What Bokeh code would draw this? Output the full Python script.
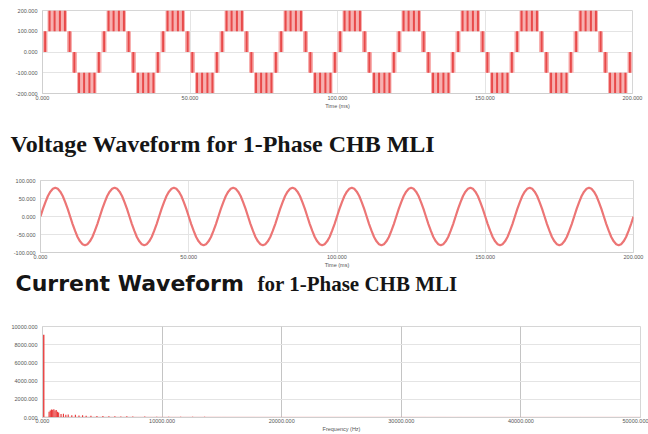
import numpy as np
from bokeh.plotting import figure
from bokeh.layouts import column
from bokeh.models import Range1d, PrintfTickFormatter, FixedTicker, Label
from bokeh.embed import file_html
from bokeh.resources import INLINE

# ---------------- data ----------------
PERIOD_MS = 20.0
N_PERIODS = 10
T_TICKS = [0, 50, 100, 150, 200]

# Voltage (one period, ms / V): PWM switching bands and dark stripes
V_BAND_T0 = [0.0, 1.7, 8.3, 10.0, 11.7, 18.3]
V_BAND_T1 = [1.7, 8.3, 10.0, 11.7, 18.3, 20.0]
V_BAND_LO = [0, 100, 0, -100, -200, -100]
V_BAND_HI = [100, 200, 100, 0, -100, 0]
V_STRIPE_T = [0.9, 2.4, 4.1, 5.9, 7.6, 9.2, 10.8, 12.4, 14.1, 15.9, 17.6, 19.1]
V_STRIPE_LO = [0, 100, 100, 100, 100, 0, -100, -200, -200, -200, -200, -100]
V_STRIPE_HI = [100, 200, 200, 200, 200, 100, 0, -100, -100, -100, -100, 0]
V_TICKS = [-200, -100, 0, 100, 200]

# Current (one period, ms / A)
I_T = [0.0, 0.83, 1.67, 2.5, 3.33, 4.17, 5.0, 5.83, 6.67, 7.5, 8.33, 9.17,
       10.0, 10.83, 11.67, 12.5, 13.33, 14.17, 15.0, 15.83, 16.67, 17.5, 18.33, 19.17]
I_VAL = [0, 21, 40, 57, 69, 77, 80, 77, 69, 57, 40, 21,
         0, -21, -40, -57, -69, -77, -80, -77, -69, -57, -40, -21]
I_TICKS = [-100, -50, 0, 50, 100]

# Spectrum (Hz / magnitude)
F_FUND = [50]
F_FUND_MAG = [9100]
F_FREQ = [550, 650, 750, 850, 950, 1050, 1150, 1250, 1350, 1550, 1750, 1950, 2150,
          2450, 2750, 3050, 3350, 3650, 4050, 4550, 5050, 5550, 6050, 6550, 7050,
          7550, 8550, 9550, 10550, 11550, 12550, 13550, 15050, 16550, 18050, 19550,
          21050, 23050, 25050, 28050, 31050, 35050, 39050, 43050, 47050]
F_MAG = [620, 780, 880, 850, 900, 760, 820, 640, 560, 380, 420, 300, 340,
         260, 290, 220, 250, 180, 200, 160, 170, 140, 150, 120, 130,
         110, 100, 90, 80, 85, 70, 75, 60, 65, 55, 60,
         50, 45, 50, 40, 35, 40, 30, 35, 30]
F_FLOOR_FREQ = [0, 5000, 10000, 15000, 20000, 25000, 30000, 35000, 40000, 45000, 50000]
F_FLOOR_MAG = [40, 35, 30, 30, 25, 25, 25, 20, 20, 20, 20]
F_XTICKS = [0, 10000, 20000, 30000, 40000, 50000]
F_YTICKS = [0, 2000, 4000, 6000, 8000, 10000]

CAPTION_V = "Voltage Waveform for 1-Phase CHB MLI"
CAPTION_I_A = "Current Waveform"
CAPTION_I_B = "for 1-Phase CHB MLI"
LABEL_V = "Vo"
LABEL_I = "I(RL1)"
LABEL_F = "Vo FFT"
XLABEL_T = "Time (ms)"
XLABEL_F = "Frequency (Hz)"

W = 648
TICK_FONT = "5.5px"
GRID = "#e4e4e4"


def tile(arr):
    return np.concatenate([np.asarray(arr, float) + k * PERIOD_MS for k in range(N_PERIODS)])


def rep(arr):
    return np.concatenate([np.asarray(arr, float) for _ in range(N_PERIODS)])


def no_align(p):
    try:
        p.frame_align = False
    except Exception:
        pass


def style(p, xticks, yticks, xlabel=None, grid_color=GRID):
    p.outline_line_color = "#d6d6d6"
    p.background_fill_color = "white"
    p.border_fill_color = "white"
    for ax in (p.xaxis, p.yaxis):
        ax.axis_line_color = "#cfcfcf"
        ax.major_tick_line_color = None
        ax.minor_tick_line_color = None
        ax.major_tick_out = 0
        ax.major_tick_in = 0
        ax.minor_tick_out = 0
        ax.minor_tick_in = 0
        ax.major_label_text_font_size = TICK_FONT
        ax.major_label_text_color = "#555555"
        ax.major_label_text_font = "Liberation Sans"
        ax.formatter = PrintfTickFormatter(format="%.3f")
        ax.major_label_standoff = 5
    p.xaxis.ticker = FixedTicker(ticks=xticks)
    p.yaxis.ticker = FixedTicker(ticks=yticks)
    p.xgrid.ticker = FixedTicker(ticks=xticks)
    p.ygrid.ticker = FixedTicker(ticks=yticks)
    p.grid.grid_line_color = grid_color
    p.xaxis.major_label_standoff = 2
    if xlabel:
        p.xaxis.axis_label = xlabel
        p.xaxis.axis_label_text_font_size = TICK_FONT
        p.xaxis.axis_label_text_font_style = "normal"
        p.xaxis.axis_label_text_font = "Liberation Sans"
        p.xaxis.axis_label_text_color = "#555555"
        p.xaxis.axis_label_standoff = 0
    no_align(p)


def tiny_label(p, x, y, text):
    p.add_layout(Label(x=x, y=y, x_offset=3, y_offset=1, text=text,
                       text_font_size="5px", text_color="#e03a3a",
                       text_baseline="bottom", text_font="Liberation Sans"))


def caption_fig(h):
    c = figure(width=W, height=h, x_range=Range1d(0, W), y_range=Range1d(0, h),
               output_backend="svg", toolbar_location=None, x_axis_location=None,
               y_axis_location=None, min_border=0, outline_line_color=None, title=None)
    c.grid.visible = False
    no_align(c)
    return c


# ---------------- voltage ----------------
pv = figure(width=W, height=112, x_range=Range1d(0, 200), y_range=Range1d(-200, 200),
            output_backend="svg", toolbar_location=None, title=None,
            min_border_top=10, min_border_bottom=19, min_border_left=42, min_border_right=16)
pv.quad(left=tile(V_BAND_T0), right=tile(V_BAND_T1), bottom=rep(V_BAND_LO), top=rep(V_BAND_HI),
        fill_color="#f7b0b0", line_color=None)
pv.segment(x0=tile(V_STRIPE_T), x1=tile(V_STRIPE_T), y0=rep(V_STRIPE_LO), y1=rep(V_STRIPE_HI),
           line_color="#e84a4a", line_width=2)
style(pv, T_TICKS, V_TICKS, XLABEL_T)
tiny_label(pv, 0, 200, LABEL_V)

# ---------------- caption V ----------------
cv = caption_fig(54)
cv.add_layout(Label(x=10, y=23, text=CAPTION_V, text_font="Liberation Serif",
                    text_font_style="bold", text_font_size="24px", text_color="#151515",
                    text_baseline="alphabetic"))

# ---------------- current ----------------
pi = figure(width=W, height=104, x_range=Range1d(0, 200), y_range=Range1d(-100, 100),
            output_backend="svg", toolbar_location=None, title=None,
            min_border_top=14, min_border_bottom=18, min_border_left=40, min_border_right=15)
i_t = np.concatenate([tile(I_T), [N_PERIODS * PERIOD_MS]])
i_v = np.concatenate([rep(I_VAL), [I_VAL[0]]])
pi.line(i_t, i_v, line_color="#ec7575", line_width=2.2)
style(pi, T_TICKS, I_TICKS, XLABEL_T)
tiny_label(pi, 0, 100, LABEL_I)

# ---------------- caption I ----------------
ci = caption_fig(48)
ci.add_layout(Label(x=15, y=35, text=CAPTION_I_A, text_font="DejaVu Sans",
                    text_font_style="bold", text_font_size="22px", text_color="#151515",
                    text_baseline="alphabetic"))
ci.add_layout(Label(x=257, y=35, text=CAPTION_I_B, text_font="Liberation Serif",
                    text_font_style="bold", text_font_size="21px", text_color="#151515",
                    text_baseline="alphabetic"))

# ---------------- spectrum ----------------
pf = figure(width=W, height=116, x_range=Range1d(0, 50000), y_range=Range1d(0, 10000),
            output_backend="svg", toolbar_location=None, title=None,
            min_border_top=8, min_border_bottom=13, min_border_left=42, min_border_right=8)
pf.line(F_FLOOR_FREQ, F_FLOOR_MAG, line_color="#f08c8c", line_width=1, line_alpha=0.7)
pf.vbar(x=F_FREQ, top=F_MAG, width=95, bottom=0, fill_color="#e83a3a", line_color=None)
pf.vbar(x=F_FUND, top=F_FUND_MAG, width=230, bottom=0, fill_color="#ea4848", line_color=None)
style(pf, F_XTICKS, F_YTICKS, XLABEL_F)
pf.xaxis.major_label_standoff = 1
pf.xgrid.grid_line_color = "#c4c4c4"
tiny_label(pf, 0, 10000, LABEL_F)

layout = column(pv, cv, pi, ci, pf)
open("out.html", "w").write(file_html(layout, INLINE))
